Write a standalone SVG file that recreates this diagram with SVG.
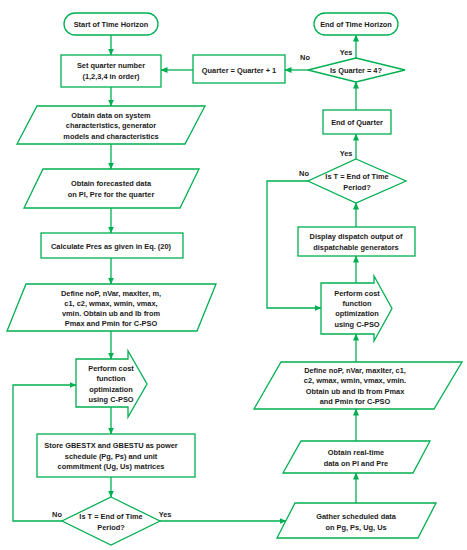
<svg xmlns="http://www.w3.org/2000/svg" width="467" height="550" viewBox="0 0 467 550">
<defs>
<marker id="ah" markerWidth="7" markerHeight="6" refX="6.5" refY="3" orient="auto" markerUnits="userSpaceOnUse">
<path d="M0,0 L7,3 L0,6 Z" fill="#00B050"/>
</marker>
<style>
.s{fill:#fff;stroke:#00B050;stroke-width:1.3}
.c{fill:none;stroke:#00B050;stroke-width:1.3;marker-end:url(#ah)}
text{font-family:"Liberation Sans",Arial,sans-serif;font-weight:bold;font-size:7.4px;fill:#1a1a1a;text-anchor:middle;dominant-baseline:central}
</style>
</defs>
<rect width="467" height="550" fill="#fff"/>
<g id="connectors">
<path class="c" d="M111,35 V55"/>
<path class="c" d="M193,70 H161"/>
<path class="c" d="M111,87 V106"/>
<path class="c" d="M111,144 V169"/>
<path class="c" d="M111,208 V233"/>
<path class="c" d="M111,258 V284"/>
<path class="c" d="M111,331 V359"/>
<path class="c" d="M62,521 H13 V385 H76"/>
<path class="c" d="M111,407 V434"/>
<path class="c" d="M111,477 V497"/>
<path class="c" d="M160,521 H286"/>
<path class="c" d="M356,503 V473"/>
<path class="c" d="M356,441 V409"/>
<path class="c" d="M356,362 V334"/>
<path class="c" d="M356,283 V256"/>
<path class="c" d="M356,227 V203"/>
<path class="c" d="M356,159 V134"/>
<path class="c" d="M356,110 V82"/>
<path class="c" d="M356,58 V35"/>
<path class="c" d="M308,70 H285"/>
<path class="c" d="M308,181 H267 V308 H321"/>
</g>
<g id="start">
<rect class="s" x="64" y="13" width="94" height="22" rx="11"/>
<text x="111" y="24">Start of Time Horizon</text>
</g>
<g id="setq">
<rect class="s" x="61" y="55" width="100" height="32"/>
<text x="111" y="65.5">Set quarter number</text>
<text x="111" y="76.5">(1,2,3,4 in order)</text>
</g>
<g id="sysdata">
<path class="s" d="M37,106 H205 L185,144 H17 Z"/>
<text x="111" y="115">Obtain data on system</text>
<text x="111" y="125.5">characteristics, generator</text>
<text x="111" y="136">models and characteristics</text>
</g>
<g id="forecast">
<path class="s" d="M43,169 H199 L180,208 H24 Z"/>
<text x="111" y="183">Obtain forecasted data</text>
<text x="111" y="194">on Pl, Pre for the quarter</text>
</g>
<g id="calc">
<rect class="s" x="41" y="233" width="142" height="25"/>
<text x="111" y="246.5">Calculate Pres as given in Eq. (20)</text>
</g>
<g id="define1">
<path class="s" d="M26,284 H216 L197,331 H7 Z"/>
<text x="111" y="293">Define noP, nVar, maxIter, m,</text>
<text x="111" y="303">c1, c2, wmax, wmin, vmax,</text>
<text x="111" y="313">vmin. Obtain ub and lb from</text>
<text x="111" y="323">Pmax and Pmin for C-PSO</text>
</g>
<g id="pso1">
<path class="s" d="M76,359 H128 V351 L147,384 L128,417 V407 H76 Z"/>
<text x="111" y="368">Perform cost</text>
<text x="111" y="378.5">function</text>
<text x="111" y="389">optimization</text>
<text x="111" y="399.5">using C-PSO</text>
</g>
<g id="store">
<rect class="s" x="37" y="434" width="158" height="43"/>
<text x="111" y="445">Store GBESTX and GBESTU as power</text>
<text x="111" y="456">schedule (Pg, Ps) and unit</text>
<text x="111" y="466.5">commitment (Ug, Us) matrices</text>
</g>
<g id="dec1">
<path class="s" d="M111,497 L160,521 L111,545 L62,521 Z"/>
<text x="111" y="516">Is T = End of Time</text>
<text x="111" y="527">Period?</text>
<text x="57" y="514">No</text>
<text x="165" y="514">Yes</text>
</g>
<g id="gather">
<path class="s" d="M295,503 H436 L418,538 H277 Z"/>
<text x="356" y="516">Gather scheduled data</text>
<text x="356" y="527">on Pg, Ps, Ug, Us</text>
</g>
<g id="realtime">
<path class="s" d="M301,441 H430 L413,473 H283 Z"/>
<text x="356" y="452">Obtain real-time</text>
<text x="356" y="463">data on Pl and Pre</text>
</g>
<g id="define2">
<path class="s" d="M281,362 H462 L434,409 H254 Z"/>
<text x="355" y="370">Define noP, nVar, maxIter, c1,</text>
<text x="355" y="380.5">c2, wmax, wmin, vmax, vmin.</text>
<text x="355" y="391">Obtain ub and lb from Pmax</text>
<text x="355" y="401.5">and Pmin for C-PSO</text>
</g>
<g id="pso2">
<path class="s" d="M321,283 H374 V276 L392,308.5 L374,341 V334 H321 Z"/>
<text x="357" y="293">Perform cost</text>
<text x="357" y="303">function</text>
<text x="357" y="313.5">optimization</text>
<text x="357" y="324">using C-PSO</text>
</g>
<g id="display">
<rect class="s" x="298" y="227" width="117" height="29"/>
<text x="356" y="236.5">Display dispatch output of</text>
<text x="356" y="247">dispatchable generators</text>
</g>
<g id="dec2">
<path class="s" d="M356,159 L406,181 L356,203 L308,181 Z"/>
<text x="357" y="176">Is T = End of Time</text>
<text x="357" y="187">Period?</text>
<text x="304" y="173">No</text>
<text x="346" y="153">Yes</text>
</g>
<g id="endq">
<rect class="s" x="323" y="110" width="68" height="24"/>
<text x="357" y="122">End of Quarter</text>
</g>
<g id="dec3">
<path class="s" d="M356,58 L405,70 L356,82 L308,70 Z"/>
<text x="356" y="70">Is Quarter = 4?</text>
<text x="305" y="57">No</text>
<text x="346" y="52">Yes</text>
</g>
<g id="incq">
<rect class="s" x="193" y="55" width="92" height="28"/>
<text x="239" y="70">Quarter = Quarter + 1</text>
</g>
<g id="end">
<rect class="s" x="314" y="13" width="84" height="22" rx="11"/>
<text x="356" y="24">End of Time Horizon</text>
</g>
</svg>
